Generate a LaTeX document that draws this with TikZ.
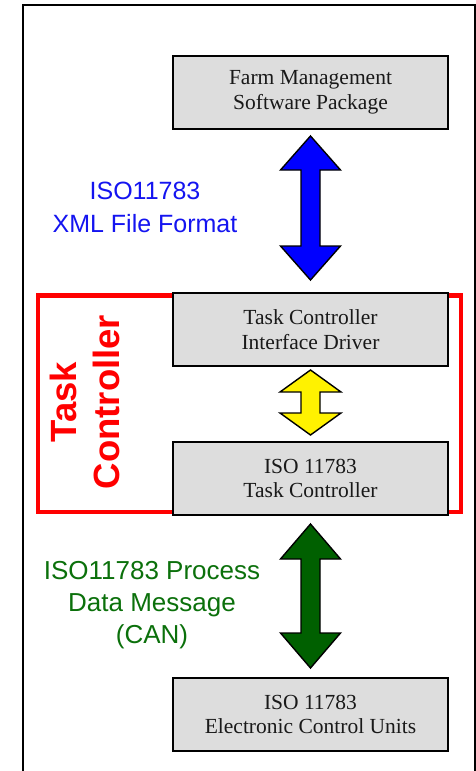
\documentclass[tikz,border=0pt]{standalone}
\usepackage{fontspec}
\setmainfont{Liberation Serif}
\newfontfamily\arialf{Liberation Sans}
\usetikzlibrary{calc}
\definecolor{boxgray}{HTML}{DDDDDD}
\definecolor{lblblue}{HTML}{1414F0}
\definecolor{lblgreen}{HTML}{0B700B}
\definecolor{arrgreen}{HTML}{006000}
\newcommand\dbarrow[5]{% top tip, bottom tip, fill, head length, head half width
  \draw[fill=#3, line width=1.4pt, line join=miter]
    let \p1=(#1), \p2=(#2) in
    (\x1,\y1) -- (\x1+#5,\y1-#4) -- (\x1+9.5pt,\y1-#4) -- (\x1+9.5pt,\y2+#4)
    -- (\x1+#5,\y2+#4) -- (\x1,\y2) -- (\x1-#5,\y2+#4) -- (\x1-9.5pt,\y2+#4)
    -- (\x1-9.5pt,\y1-#4) -- (\x1-#5,\y1-#4) -- cycle;}
\begin{document}
\begin{tikzpicture}[x=1pt,y=-1pt,
  box/.style={draw=black, fill=boxgray, line width=1.8pt, minimum width=275pt,
    minimum height=73pt, inner sep=0pt, outer sep=0pt, align=center,
    text=black!90, font=\fontsize{21.5}{24.5}\selectfont},
  frame/.style={line width=2.2pt, draw=black},
  redframe/.style={draw=red, line width=4.5pt, line join=miter}]
\useasboundingbox (0,0) rectangle (476,771);
% outer frame
\draw[frame] (23,775) -- (23,5) -- (475,5) -- (475,775);
% red task controller frame
\draw[redframe] (38,295.5) rectangle (461,512);
% boxes
\node[box] (fms) at (310.5,92.5) {Farm Management\\Software Package};
\node[box] (tcid) at (310.5,329.5) {Task Controller\\Interface Driver};
\node[box] (tc) at (310.5,478.5) {ISO 11783\\Task Controller};
\node[box] (ecu) at (310.5,714.5) {ISO 11783\\Electronic Control Units};
% arrow tips
\coordinate (a1t) at ($(fms.south)+(0,7)$);
\coordinate (a1b) at ($(tcid.north)+(0,-13)$);
\coordinate (a2t) at ($(tcid.south)+(0,4)$);
\coordinate (a2b) at ($(tc.north)+(0,-7)$);
\coordinate (a3t) at ($(tc.south)+(0,9)$);
\coordinate (a3b) at ($(ecu.north)+(0,-10)$);
\dbarrow{a1t}{a1b}{blue}{34pt}{30pt}
\dbarrow{a2t}{a2b}{yellow}{22pt}{30.5pt}
\dbarrow{a3t}{a3b}{arrgreen}{35pt}{30pt}
% labels
\node[align=center, text=lblblue, inner sep=0pt,
  font=\arialf\fontsize{25}{33}\selectfont] (xml) at (145,207.5)
  {ISO11783\\XML File Format};
\node[align=center, text=lblgreen, inner sep=0pt,
  font=\arialf\fontsize{26}{32}\selectfont] (can) at (152,605.5)
  {ISO11783 Process\\Data Message\\(CAN)};
\node[align=center, text=red, inner sep=0pt, rotate=90,
  font=\arialf\bfseries\fontsize{36.5}{43}\selectfont] (tclabel) at (85,402)
  {Task\\Controller};
\end{tikzpicture}
\end{document}
